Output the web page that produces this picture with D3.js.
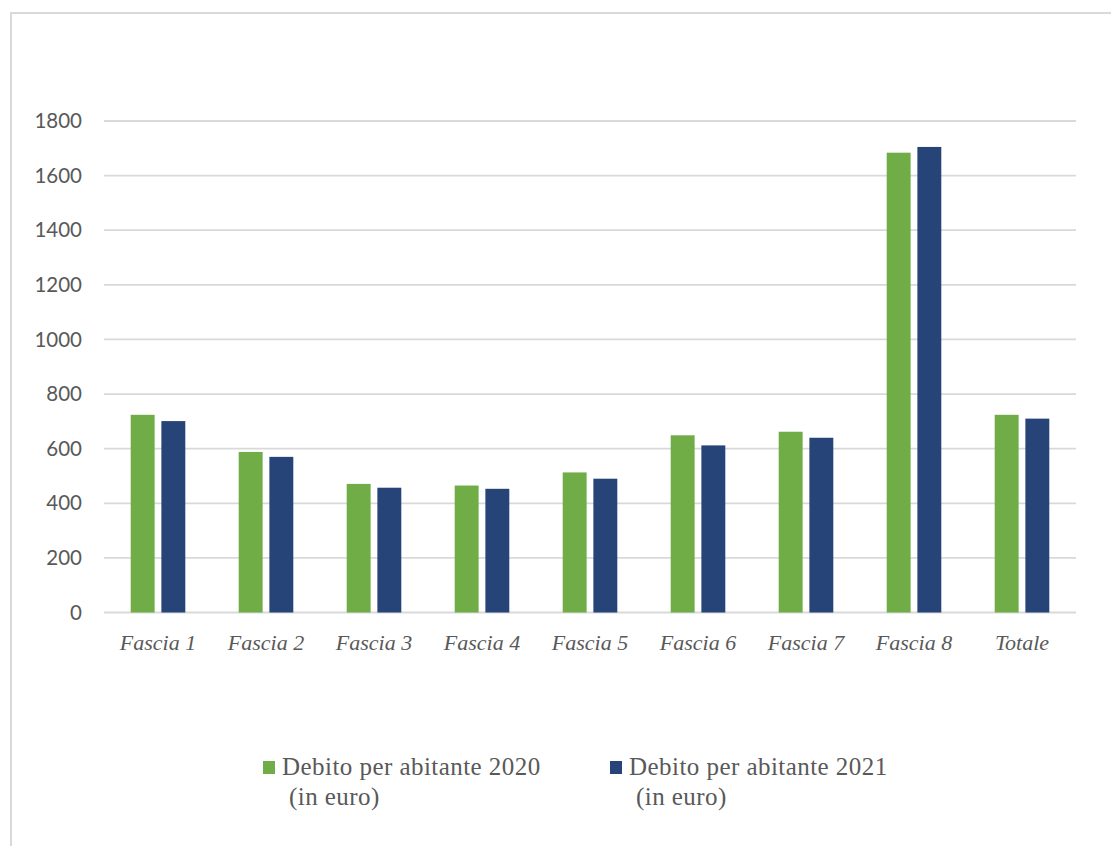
<!DOCTYPE html>
<html><head><meta charset="utf-8">
<script src="https://cdn.jsdelivr.net/npm/d3@7"></script>
<style>html,body{margin:0;padding:0;background:#fff;}</style>
</head><body>
<svg id="chart" width="1111" height="846"></svg>
<script>
const categories = ["Fascia 1","Fascia 2","Fascia 3","Fascia 4","Fascia 5","Fascia 6","Fascia 7","Fascia 8","Totale"];
const values2020 = [724, 588, 471, 465, 513, 649, 662, 1684, 724];
const values2021 = [701, 570, 457, 453, 490, 612, 640, 1705, 710];
const seriesNames = ["Debito per abitante 2020", "Debito per abitante 2021"];
const legendSub = "(in euro)";
const yTicks = [0, 200, 400, 600, 800, 1000, 1200, 1400, 1600, 1800];
const colors = ["#70AD47", "#264478"];

(function(){
const svg = d3.select("#chart");
// chart area border
svg.append("path").attr("d", "M11,846 L11,13 L1111,13")
  .attr("fill","none").attr("stroke","#d9d9d9").attr("stroke-width",2);

const pLeft = 104, pRight = 1076, pTop = 121, pBottom = 612.5;
const x0 = d3.scaleBand().domain(categories).range([pLeft, pRight]).padding(0);
const bw = x0.bandwidth();
const x1 = d3.scaleBand().domain([0,1]).range([bw/2 - 27.3, bw/2 + 27.3]).paddingInner(0.22).paddingOuter(0);
const y = d3.scaleLinear().domain([0, 1800]).range([pBottom, pTop]);

// gridlines
svg.append("g").selectAll("line").data(yTicks).join("line")
  .attr("x1", pLeft).attr("x2", pRight)
  .attr("y1", d => y(d)).attr("y2", d => y(d))
  .attr("stroke", "#d9d9d9").attr("stroke-width", 1.8);

// y axis labels
const yAxis = d3.axisLeft(y).tickValues(yTicks).tickFormat(d3.format("d")).tickSize(0).tickPadding(0);
const gy = svg.append("g").attr("transform", `translate(82,0)`).call(yAxis);
gy.select(".domain").remove();
gy.selectAll("text").attr("font-family","Lato, 'Open Sans', sans-serif").attr("font-size",20.5).attr("fill","#595959");

// bars
const data = categories.map((c,i) => ({cat:c, vals:[values2020[i], values2021[i]]}));
const groups = svg.append("g").selectAll("g").data(data).join("g")
  .attr("transform", d => `translate(${x0(d.cat)},0)`);
groups.selectAll("rect").data(d => d.vals.map((v,k)=>({v,k}))).join("rect")
  .attr("x", d => x1(d.k)).attr("width", x1.bandwidth())
  .attr("y", d => y(d.v)).attr("height", d => y(0) - y(d.v))
  .attr("fill", d => colors[d.k]);

// x axis labels
const xAxis = d3.axisBottom(x0).tickSize(0).tickPadding(0);
const gx = svg.append("g").attr("transform", `translate(0,${pBottom + 22})`).call(xAxis);
gx.select(".domain").remove();
gx.selectAll("text").attr("font-family","'Liberation Serif', serif").attr("font-style","italic")
  .attr("font-size",22).attr("fill","#595959").attr("dy","0.71em");

// legend
const legendX = [263, 610];
const lg = svg.append("g").selectAll("g").data(seriesNames).join("g")
  .attr("transform", (d,i) => `translate(${legendX[i]},0)`);
lg.append("rect").attr("x",0).attr("y",761).attr("width",12).attr("height",13)
  .attr("fill",(d,i)=>colors[i]);
lg.append("text").attr("x",19).attr("y",775).text(d=>d)
  .attr("font-family","'Liberation Serif', serif").attr("font-size",25)
  .attr("letter-spacing",0.45).attr("fill","#595959");
lg.append("text").attr("x",26).attr("y",805).text(legendSub)
  .attr("font-family","'Liberation Serif', serif").attr("font-size",25)
  .attr("letter-spacing",0.45).attr("fill","#595959");
})();
</script>
</body></html>
